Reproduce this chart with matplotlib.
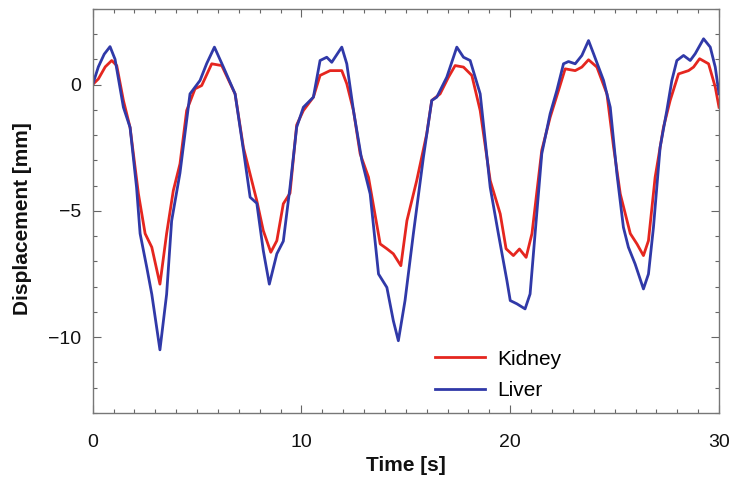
import matplotlib
matplotlib.use("Agg")
import matplotlib.pyplot as plt
from matplotlib.ticker import MultipleLocator, FixedLocator

plt.rcParams['font.family'] = ['Liberation Sans', 'DejaVu Sans']

liver_t = [0, 0.27, 0.55, 0.83, 1.07, 1.47, 1.79, 2.1, 2.27, 2.59, 2.83, 3.22, 3.54, 3.78, 4.18,
           4.66, 5.14, 5.46, 5.83, 6.26, 6.82, 7.22, 7.54, 7.86, 8.17, 8.46, 8.82, 9.13, 9.45,
           9.77, 10.09, 10.57, 10.89, 11.21, 11.45, 11.93, 12.17, 12.49, 12.89, 13.29, 13.69,
           14.09, 14.4, 14.64, 14.96, 15.36, 15.84, 16.24, 16.48, 16.96, 17.44, 17.76, 18.08,
           18.56, 19.04, 19.43, 19.84, 20.0, 20.32, 20.71, 20.95, 21.19, 21.51, 21.91, 22.23,
           22.55, 22.79, 23.11, 23.43, 23.75, 23.99, 24.47, 24.79, 25.11, 25.42, 25.66, 25.98,
           26.38, 26.62, 26.86, 27.18, 27.5, 27.74, 27.98, 28.3, 28.62, 28.86, 29.26, 29.58,
           29.82, 30.0]
liver_y = [0, 0.7, 1.2, 1.5, 1.0, -0.9, -1.7, -4.07, -5.9, -7.24, -8.3, -10.5, -8.3, -5.4, -3.5,
           -0.37, 0.16, 0.83, 1.48, 0.69, -0.37, -2.6, -4.46, -4.7, -6.57, -7.9, -6.7, -6.2, -4.07,
           -1.69, -0.9, -0.5, 0.95, 1.08, 0.88, 1.48, 0.82, -1.03, -3.0, -4.33, -7.5,
           -8.03, -9.35, -10.14, -8.55, -5.9, -2.88, -0.63, -0.5, 0.29, 1.48, 1.08, 0.95,
           -0.37, -4.07, -5.9, -7.76, -8.55, -8.68, -8.88, -8.29, -5.9, -2.74, -1.16, -0.24,
           0.82, 0.91, 0.82, 1.15, 1.74, 1.22, 0.16, -0.9, -3.54, -5.65, -6.44, -7.1,
           -8.09, -7.5, -5.65, -2.48, -1.03, 0.16, 0.95, 1.15, 0.95, 1.22, 1.81, 1.48,
           0.69, -0.37]

kidney_t = [0, 0.27, 0.6, 0.91, 1.15, 1.47, 1.79, 2.19, 2.51, 2.83, 3.22, 3.54, 3.86, 4.18,
            4.5, 4.9, 5.22, 5.7, 6.18, 6.82, 7.22, 7.86, 8.17, 8.53, 8.82, 9.13, 9.45, 9.77,
            10.09, 10.57, 10.89, 11.37, 11.93, 12.17, 12.49, 12.81, 13.21, 13.77, 14.09, 14.4,
            14.76, 15.05, 15.52, 16.0, 16.24, 16.64, 17.04, 17.36, 17.76, 18.16, 18.56, 19.04,
            19.52, 19.8, 20.15, 20.44, 20.76, 21.04, 21.51, 21.91, 22.31, 22.63, 23.11, 23.43,
            23.75, 24.15, 24.63, 24.95, 25.27, 25.75, 26.07, 26.38, 26.62, 26.94, 27.34, 27.66,
            28.06, 28.54, 28.78, 29.07, 29.5, 29.82, 30.0]
kidney_y = [0, 0.22, 0.7, 0.95, 0.75, -0.63, -1.7, -4.33, -5.9, -6.44, -7.9, -5.9, -4.2, -3.14,
            -1.03, -0.17, -0.04, 0.82, 0.75, -0.37, -2.5, -4.6, -5.78, -6.64, -6.18, -4.72, -4.3, -1.6,
            -1.03, -0.5, 0.36, 0.55, 0.55, 0.03, -1.03, -2.74, -3.67, -6.31, -6.5, -6.7,
            -7.17, -5.39, -3.8, -1.95, -0.63, -0.37, 0.29, 0.75, 0.69, 0.36, -1.03, -3.8,
            -5.12, -6.5, -6.77, -6.51, -6.84, -5.9, -2.6, -1.3, -0.24, 0.62, 0.55, 0.69,
            0.98, 0.69, -0.37, -2.48, -4.33, -5.9, -6.31, -6.77, -6.18, -3.67, -1.69, -0.63,
            0.42, 0.55, 0.69, 1.02, 0.82, -0.1, -0.9]

x_ticks = [0, 10, 20, 30]
y_ticks = [0, -5, -10]
y_ticklabels = ['0', '\u22125', '\u221210']

fig = plt.figure(figsize=(7.37, 4.79), dpi=100)
ax = fig.add_axes([0.1258, 0.1378, 0.8498, 0.8440])

ax.plot(kidney_t, kidney_y, color='#e5261f', lw=2.0, label='Kidney')
ax.plot(liver_t, liver_y, color='#3039a8', lw=2.0, label='Liver')

ax.set_xlim(0, 30)
ax.set_ylim(-13, 3)
ax.xaxis.set_major_locator(FixedLocator(x_ticks))
ax.yaxis.set_major_locator(FixedLocator(y_ticks))
ax.xaxis.set_minor_locator(MultipleLocator(1))
ax.yaxis.set_minor_locator(MultipleLocator(1))
ax.set_yticklabels(y_ticklabels)

ax.tick_params(which='both', direction='in', top=True, right=True, colors='#666666',
               labelcolor='#111111', labelsize=14)
ax.tick_params(which='major', length=6, width=0.8)
ax.tick_params(which='minor', length=3, width=0.8)
ax.tick_params(axis='x', which='major', pad=15)
ax.tick_params(axis='y', which='major', pad=8)
for s in ax.spines.values():
    s.set_color('#777777')
    s.set_linewidth(1.0)

ax.set_xlabel('Time [s]', fontsize=15, fontweight='bold', labelpad=4, color='#111111')
ax.set_ylabel('Displacement [mm]', fontsize=15, fontweight='bold', color='#111111')
ax.yaxis.set_label_coords(-0.097, 0.48)

ax.legend(frameon=False, loc='upper left', bbox_to_anchor=(0.5466, 0.157), fontsize=15,
          handlelength=2.4, handletextpad=0.6, labelspacing=0.6, borderpad=0,
          borderaxespad=0)

fig.savefig('out.png', dpi=100)
